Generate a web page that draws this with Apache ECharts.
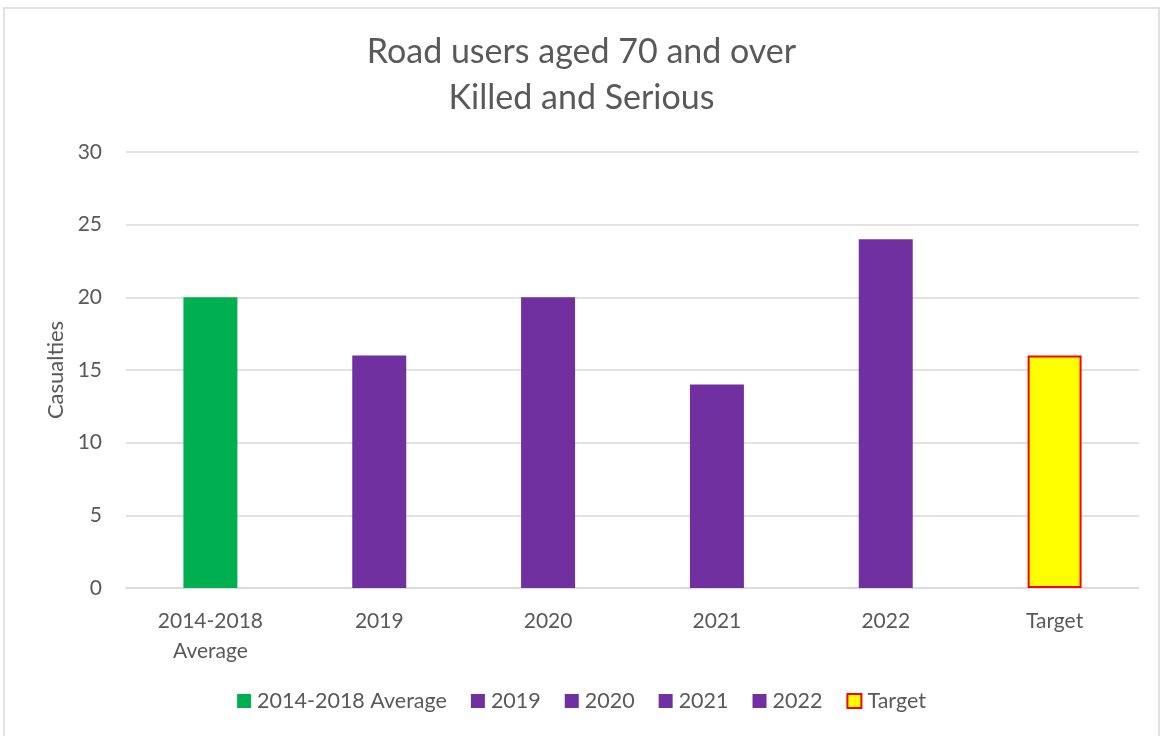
<!DOCTYPE html>
<html><head><meta charset="utf-8">
<script src="https://cdn.jsdelivr.net/npm/echarts@6/dist/echarts.min.js"></script>
<style>html,body{margin:0;padding:0;background:#fff}#c{width:1163px;height:736px}</style>
</head><body><div id="c"></div>
<script>
const categories = ['2014-2018\nAverage','2019','2020','2021','2022','Target'];
const seriesNames = ['2014-2018 Average','2019','2020','2021','2022','Target'];
const values = [20, 16, 20, 14, 24, 16];
const yTicks = [0, 5, 10, 15, 20, 25, 30];

const colors = ['#00b050','#7030a0','#7030a0','#7030a0','#7030a0','#ffff00'];
const font = 'Lato, "Open Sans", sans-serif';
const series = seriesNames.map((n, i) => ({
  name: n,
  type: 'bar',
  stack: 'all',
  barWidth: 54,
  data: values.map((v, j) => j === i ? v : '-'),
  itemStyle: i === 5 ? {color: colors[i], borderColor: '#ff0000', borderWidth: 2} : {color: colors[i]}
}));
const chart = echarts.init(document.getElementById('c'));
chart.setOption({
  animation: false,
  graphic: [{type: 'rect', shape: {x: 4, y: 8, width: 1155, height: 740}, style: {fill: 'none', stroke: '#d9d9d9', lineWidth: 1.5}}],
  title: {
    text: 'Road users aged 70 and over\nKilled and Serious',
    left: 'center', top: 24,
    textStyle: {fontFamily: font, fontSize: 34, fontWeight: 'normal', color: '#595959', lineHeight: 46}
  },
  legend: {
    bottom: 19, left: 'center',
    itemWidth: 14, itemHeight: 14, itemGap: 24,
    icon: 'rect',
    textStyle: {fontFamily: font, fontSize: 21.5, color: '#595959', padding: [0,0,0,1]},
    data: seriesNames
  },
  grid: {left: 126, right: 24, top: 152, bottom: 148},
  xAxis: {
    type: 'category', data: categories,
    axisLine: {lineStyle: {color: '#d9d9d9', width: 1.5}},
    axisTick: {show: false},
    axisLabel: {fontFamily: font, fontSize: 21, color: '#595959', lineHeight: 30, margin: 18}
  },
  yAxis: {
    type: 'value', min: 0, max: 30, interval: 5,
    name: 'Casualties', nameLocation: 'middle', nameGap: 58,
    nameTextStyle: {fontFamily: font, fontSize: 22, color: '#595959'},
    axisLine: {show: false}, axisTick: {show: false},
    splitLine: {lineStyle: {color: '#d9d9d9', width: 1.5}},
    axisLabel: {fontFamily: font, fontSize: 21, color: '#595959', margin: 24,
      formatter: v => yTicks.includes(v) ? String(v) : ''}
  },
  series: series
});
</script></body></html>
